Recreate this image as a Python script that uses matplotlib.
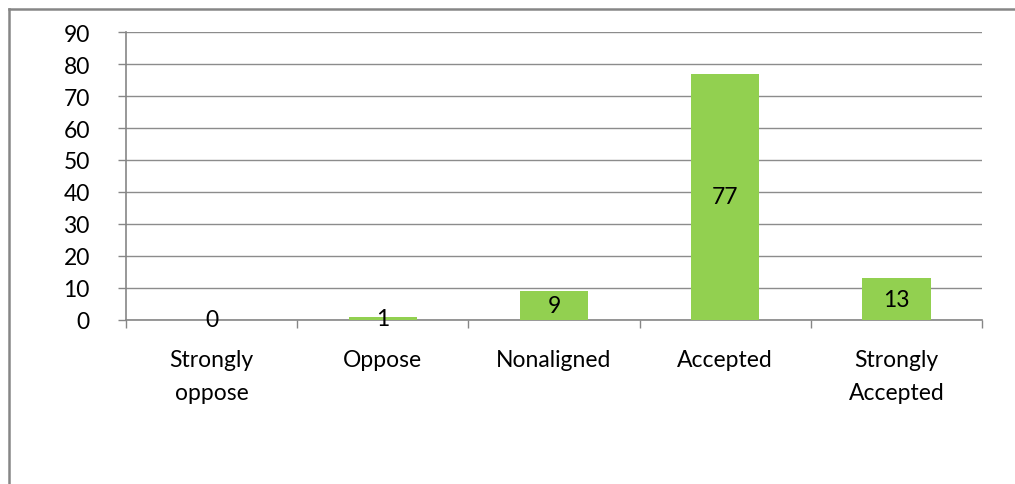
import numpy as np
import matplotlib.pyplot as plt
from matplotlib.lines import Line2D

# survey response counts
categories = ["Strongly\noppose", "Oppose", "Nonaligned", "Accepted", "Strongly\nAccepted"]
counts = [0, 1, 9, 77, 13]
y_ticks = [0, 10, 20, 30, 40, 50, 60, 70, 80, 90]

plt.rcParams['font.family'] = ['Lato', 'DejaVu Sans']
FS = 16.5

fig = plt.figure(figsize=(10.15, 4.85), dpi=100)
ax = fig.add_axes([126 / 1015, 1 - 321 / 485, 856 / 1015, 288 / 485])

x = np.arange(len(categories))
ax.bar(x, counts, width=0.4, color='#92D050', zorder=3)

# data labels sit in the middle of each bar
for xi, c in zip(x, counts):
    ax.text(xi, c / 2, str(c), ha='center', va='center', fontsize=FS, zorder=4)

ax.set_xlim(-0.5, len(categories) - 0.5)
ax.set_ylim(0, 90)
ax.set_yticks(y_ticks)
ax.set_yticklabels([str(t) for t in y_ticks], fontsize=FS)
ax.yaxis.grid(True, color='#8c8c8c', linewidth=1.0, zorder=0)

# category labels between the boundary ticks
ax.set_xticks(x)
ax.set_xticklabels(categories, fontsize=FS, linespacing=1.7, va='top')
ax.tick_params(axis='x', length=0, pad=21)
ax.set_xticks(np.arange(-0.5, len(categories)), minor=True)
ax.tick_params(axis='x', which='minor', length=6, color='#868686', width=1)
ax.tick_params(axis='y', length=6, color='#868686', width=1, pad=20)

for side in ['top', 'right']:
    ax.spines[side].set_visible(False)
for side in ['left', 'bottom']:
    ax.spines[side].set_color('#868686')
    ax.spines[side].set_linewidth(1.2)

# chart area border (only the top and left edges fall inside the image)
fig.add_artist(Line2D([8.5 / 1015, 8.5 / 1015], [0, 1 - 10 / 485],
                      transform=fig.transFigure, color='#868686', linewidth=1.8))
fig.add_artist(Line2D([8.5 / 1015, 1], [1 - 10 / 485, 1 - 10 / 485],
                      transform=fig.transFigure, color='#868686', linewidth=1.8))

fig.savefig('out.png', dpi=100)
